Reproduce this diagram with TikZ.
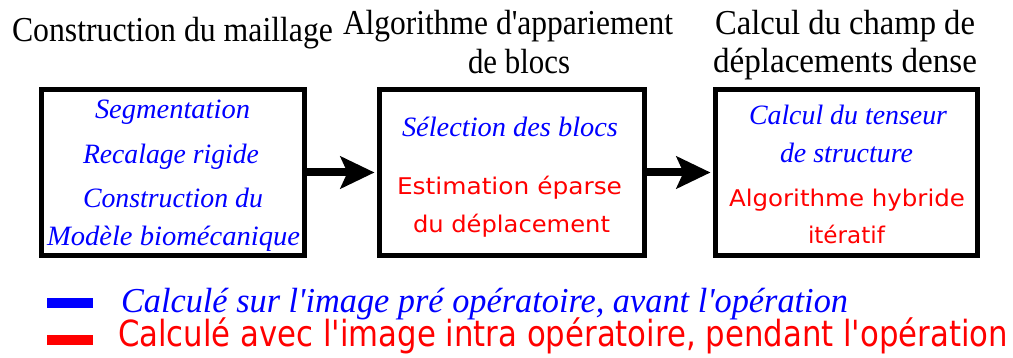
\documentclass[tikz,border=0pt]{standalone}
\usepackage{fontspec}
\usepackage{graphicx}
\setmainfont{Liberation Serif}[Ligatures=TeXOff]
\newfontfamily\dvsans{DejaVu Sans}
\usetikzlibrary{arrows.meta}
\newcommand\fitt[2]{\resizebox{#1pt}{\height}{#2}}
\tikzset{
  txt/.style={anchor=base west, inner sep=0pt, outer sep=0pt},
  ttl/.style={txt, text=black, font=\fontsize{35}{40}\selectfont},
  bluetxt/.style={txt, text=blue, font=\itshape\fontsize{28}{32}\selectfont},
  redtxt/.style={txt, text=red, font=\dvsans\fontsize{23}{28}\selectfont},
  legb/.style={txt, text=blue, font=\itshape\fontsize{35}{40}\selectfont},
  legr/.style={txt, text=red, font=\dvsans\fontsize{36}{40}\selectfont},
  stagebox/.style={draw=black, line width=5pt, fill=white, inner sep=0pt, minimum height=166pt},
  flow/.style={line width=8pt, -{Stealth[length=34pt,width=32pt,inset=7pt]}, shorten >=2.5pt}
}
\begin{document}
\begin{tikzpicture}[x=1pt,y=-1pt]
\useasboundingbox[fill=white] (0,0) rectangle (1013,358);
% boxes
\node[stagebox, minimum width=263pt] (b1) at (173,172.5) {};
\node[stagebox, minimum width=265pt] (b2) at (512,172.5) {};
\node[stagebox, minimum width=262pt] (b3) at (846.5,172.5) {};
% arrows
\draw[flow] (b1.east) -- (b2.west);
\draw[flow] (b2.east) -- (b3.west);
% titles
\node[ttl] (t1) at (12,42) {\fitt{321}{Construction du maillage}};
\node[ttl] (t2) at (343,35) {\fitt{330}{Algorithme d'appariement}};
\node[ttl] (t3) at (468,74) {\fitt{102}{de blocs}};
\node[ttl] (t4) at (715,35) {\fitt{260}{Calcul du champ de}};
\node[ttl] (t5) at (713,73) {\fitt{264}{déplacements dense}};
% box 1
\node[bluetxt] (a1) at (95,119) {\fitt{155}{Segmentation}};
\node[bluetxt] (a2) at (83,164) {\fitt{176}{Recalage rigide}};
\node[bluetxt] (a3) at (83,208) {\fitt{180}{Construction du}};
\node[bluetxt] (a4) at (47,246) {\fitt{253}{Modèle biomécanique}};
% box 2
\node[bluetxt] (c1) at (402,137) {\fitt{216}{Sélection des blocs}};
\node[redtxt] (c2) at (397,195) {\fitt{225}{Estimation éparse}};
\node[redtxt] (c3) at (413,233) {\fitt{197}{du déplacement}};
% box 3
\node[bluetxt] (d1) at (749,125) {\fitt{198}{Calcul du tenseur}};
\node[bluetxt] (d2) at (780,163) {\fitt{133}{de structure}};
\node[redtxt] (d3) at (729,207) {\fitt{236}{Algorithme hybride}};
\node[redtxt] (d4) at (808,244) {\fitt{77}{itératif}};
% legend
\fill[blue] (47,298) rectangle (93,308);
\fill[red] (47,335) rectangle (93,345);
\node[legb] (l1) at (121,313) {\fitt{727}{Calculé sur l'image pré opératoire, avant l'opération}};
\node[legr] (l2) at (118,346) {\fitt{890}{Calculé avec l'image intra opératoire, pendant l'opération}};
\end{tikzpicture}
\end{document}
